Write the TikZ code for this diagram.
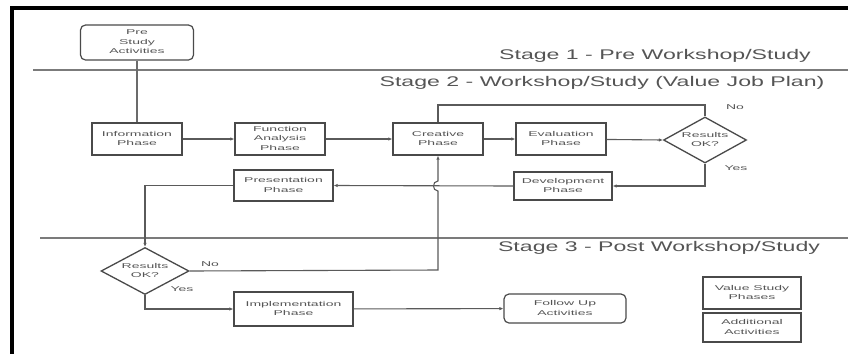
\documentclass[tikz,border=0pt]{standalone}
\usepackage{fontspec}
\setmainfont{Liberation Sans}
\usepackage{graphicx}
\usetikzlibrary{shapes.geometric,arrows.meta}
\definecolor{ln}{HTML}{5A5A5A}
\definecolor{bx}{HTML}{4A4A4A}
\definecolor{tx}{HTML}{555555}
\newcommand{\bt}[1]{\scalebox{2.0}[1]{\fontsize{7}{9.5}\selectfont\begin{tabular}{@{}c@{}}#1\end{tabular}}}
\newcommand{\stg}[1]{\scalebox{1.65}[1]{\fontsize{14}{16}\selectfont #1}}
\begin{document}
\begin{tikzpicture}[x=1pt,y=-1pt,
  phase/.style={draw=bx,line width=1.4pt,fill=white,inner sep=0pt,text=tx,minimum width=#1},
  phase/.default=90pt,
  act/.style={draw=bx,line width=1.2pt,rounded corners=5pt,fill=white,inner sep=0pt,text=tx},
  dec/.style={diamond,draw=bx,line width=1.3pt,fill=white,inner sep=0pt,text=tx,aspect=1.8},
  conn/.style={draw=ln,line width=1.1pt},
  arr/.style={conn,-{Latex[length=4pt,width=3.5pt]}},
  lab/.style={text=tx,inner sep=0pt},
  stage/.style={text=tx,inner sep=0pt},
  sep/.style={draw=ln!80,line width=1.2pt}
]
\useasboundingbox (0,0) rectangle (848,354);
\fill[white] (0,0) rectangle (848,354);
% frame
\draw[line width=4pt,black] (10,8) -- (848,8);
\draw[line width=4pt,black] (12,6) -- (12,354);
% stage separators
\coordinate (s1a) at (33,70); \coordinate (s1b) at (848,70);
\coordinate (s2a) at (40,238); \coordinate (s2b) at (848,238);
\draw[sep] (s1a) -- (s1b);
\draw[sep] (s2a) -- (s2b);
\node[stage] (st1) at (655,56) {\stg{Stage 1 - Pre Workshop/Study}};
\node[stage] (st2) at (602,83) {\stg{Stage 2 - Workshop/Study (Value Job Plan)}};
\node[stage] (st3) at (659,248) {\stg{Stage 3 - Post Workshop/Study}};
% nodes
\node[act,minimum width=113pt,minimum height=35pt] (pre) at (137,42.5) {\bt{Pre\\Study\\Activities}};
\node[phase,minimum height=32pt] (info) at (137,139) {\bt{Information\\Phase}};
\node[phase,minimum height=32pt] (func) at (280,139) {\bt{Function\\Analysis\\Phase}};
\node[phase,minimum height=32pt] (crea) at (438,139) {\bt{Creative\\Phase}};
\node[phase,minimum height=32pt] (eval) at (561,139) {\bt{Evaluation\\Phase}};
\node[dec,minimum width=83pt,minimum height=46pt] (res1) at (705,140) {\bt{Results\\OK?}};
\node[phase=98pt,minimum height=28pt] (dev) at (563,186) {\bt{Development\\Phase}};
\node[phase=99pt,minimum height=31pt] (pres) at (283.5,185.5) {\bt{Presentation\\Phase}};
\node[dec,minimum width=88pt,minimum height=47pt] (res2) at (145,271) {\bt{Results\\OK?}};
\node[phase=119pt,minimum height=34pt] (impl) at (293.5,309) {\bt{Implementation\\Phase}};
\node[act,minimum width=122pt,minimum height=29pt] (fol) at (565,308.5) {\bt{Follow Up\\Activities}};
\node[phase=98pt,minimum height=32pt] (vsp) at (752,293) {\bt{Value Study\\Phases}};
\node[phase=98pt,minimum height=29pt] (add) at (752,327.5) {\bt{Additional\\Activities}};
% labels
\node[lab] (no1) at (735,108) {\bt{No}};
\node[lab] (yes1) at (736,169) {\bt{Yes}};
\node[lab] (no2) at (210,265) {\bt{No}};
\node[lab] (yes2) at (182,290) {\bt{Yes}};
% connectors
\draw[conn,line width=2.2pt,draw=ln!90] (pre.south) -- (info.north);
\draw[arr] (info) -- (func);
\draw[arr] (func) -- (crea);
\draw[arr] (crea) -- (eval);
\draw[arr] (eval) -- (res1.west);
\coordinate (loopR) at (705,105);
\draw[conn] (res1.north) -- (loopR) -| (crea.north);
\draw[arr] (res1.south) |- (dev.east);
\draw[arr] (dev.west) -- (pres.east);
\coordinate (nob) at (438,270);
\coordinate (hopA) at (438,191);
\coordinate (hopB) at (438,181);
\draw[arr] (res2.east) -- (nob) -- (hopA) .. controls (432,191) and (432,181) .. (hopB) -- (crea.south);
\draw[arr] (pres.west) -| (res2.north);
\draw[arr] (res2.south) |- (impl.west);
\draw[arr] (impl) -- (fol);
\end{tikzpicture}
\end{document}
